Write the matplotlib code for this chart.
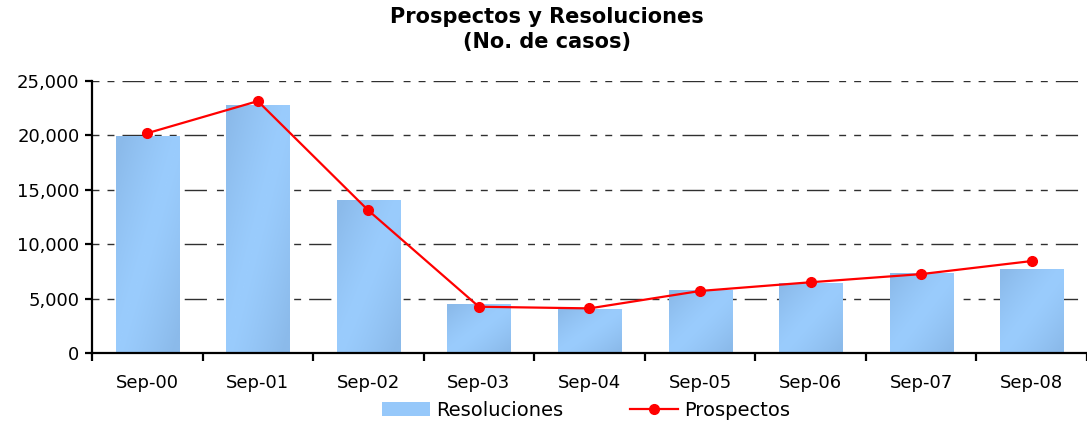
import numpy as np
import matplotlib
matplotlib.use('Agg')
import matplotlib.pyplot as plt
from matplotlib.colors import LinearSegmentedColormap
from matplotlib.ticker import StrMethodFormatter, MultipleLocator

# Data
periods = ['Sep-00', 'Sep-01', 'Sep-02', 'Sep-03', 'Sep-04',
           'Sep-05', 'Sep-06', 'Sep-07', 'Sep-08']
resoluciones = [19900, 22800, 14100, 4500, 4050, 5750, 6450, 7380, 7720]
prospectos = [20200, 23150, 13100, 4250, 4100, 5700, 6500, 7250, 8450]

plt.rcParams['font.family'] = ['DejaVu Sans']

fig = plt.figure(figsize=(10.87, 4.24), dpi=100)
ax = fig.add_axes([0.0846, 0.1675, 0.9154, 0.6415])

x = np.arange(len(periods))
bars = ax.bar(x, resoluciones, width=0.57, color='#96C8FA', zorder=2,
              label='Resoluciones')

# diagonal shading on each bar, light along the bottom-left/top-right diagonal
cmap = LinearSegmentedColormap.from_list('barshade', ['#9ACCFD', '#8BBAEA'])
uu, vv = np.meshgrid(np.linspace(0, 1, 60), np.linspace(1, 0, 200))
shade = np.clip(np.abs(uu - vv) * 1.1, 0, 1) ** 1.3
for b in bars:
    x0, w, h = b.get_x(), b.get_width(), b.get_height()
    im = ax.imshow(shade, cmap=cmap, vmin=0, vmax=1, aspect='auto',
                   extent=[x0, x0 + w, 0, h], zorder=2.1, interpolation='bilinear')
    im.set_clip_path(b)

ax.plot(x, prospectos, color='#FF0000', lw=1.6, marker='o', markersize=7,
        zorder=4, label='Prospectos')

ax.set_xlim(-0.5, len(periods) - 0.5)
ax.set_ylim(0, 25000)
ax.yaxis.set_major_locator(MultipleLocator(5000))
ax.yaxis.set_major_formatter(StrMethodFormatter('{x:,.0f}'))
ax.set_xticks(x)
ax.set_xticklabels(periods)
ax.set_xticks(np.arange(-0.5, len(periods)), minor=True)

ax.grid(axis='y', color='#303030', lw=1.0, linestyle=(0, (5, 5.8, 5, 5.8, 16, 7.2)))
ax.set_axisbelow(True)

for s in ['top', 'right']:
    ax.spines[s].set_visible(False)
for s in ['left', 'bottom']:
    ax.spines[s].set_linewidth(1.6)
    ax.spines[s].set_color('black')

ax.tick_params(axis='x', which='major', length=0, pad=15, labelsize=13)
ax.tick_params(axis='x', which='minor', length=5.5, width=1.6, direction='out')
ax.tick_params(axis='y', length=5, width=1.6, direction='out', pad=4, labelsize=13)

fig.text(0.503, 0.96, 'Prospectos y Resoluciones', ha='center', va='center',
         fontsize=15, fontweight='bold')
fig.text(0.503, 0.90, '(No. de casos)', ha='center', va='center',
         fontsize=15, fontweight='bold')

handles, labels = ax.get_legend_handles_labels()
order = [labels.index('Resoluciones'), labels.index('Prospectos')]
fig.legend([handles[i] for i in order], [labels[i] for i in order],
           loc='center', bbox_to_anchor=(0.539, 0.033), ncol=2, frameon=False,
           fontsize=14, handlelength=2.5, handletextpad=0.3, columnspacing=3.4,
           borderpad=0)

fig.savefig('out.png', dpi=100)
